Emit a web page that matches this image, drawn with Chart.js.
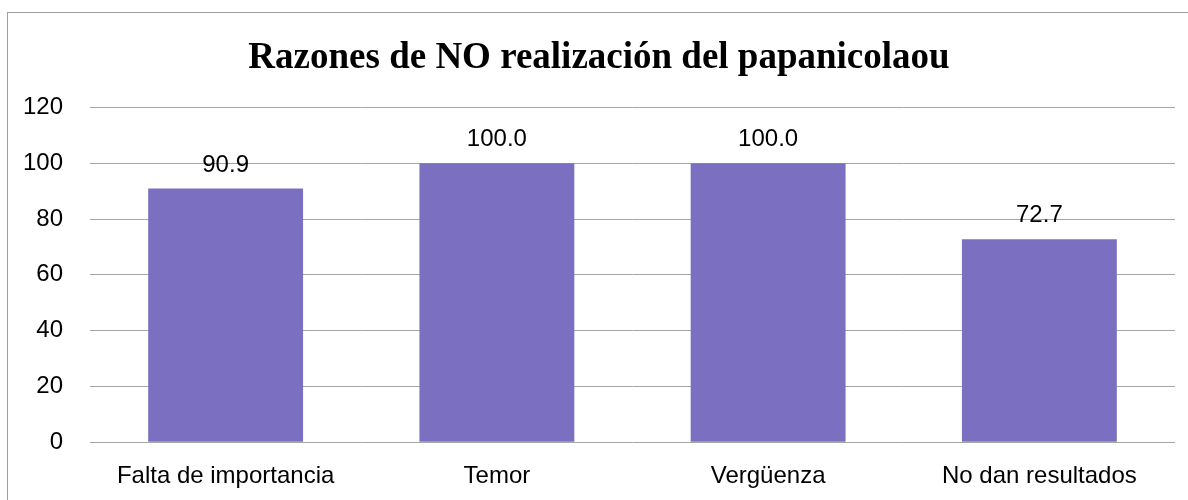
<!DOCTYPE html>
<html>
<head>
<meta charset="utf-8">
<script src="https://cdn.jsdelivr.net/npm/chart.js@4"></script>
<style>
  html, body { margin: 0; padding: 0; background: #fff; overflow: hidden; }
  #box { position: absolute; left: 7px; top: 12px; width: 1194px; height: 500px; border: 1px solid #a0a0a0; }
</style>
</head>
<body>
<div id="box"><canvas id="razones"></canvas></div>
<script>
let categorias = ['Falta de importancia', 'Temor', 'Vergüenza', 'No dan resultados'];
let porcentajes = [90.9, 100.0, 100.0, 72.7];
let yTicks = [0, 20, 40, 60, 80, 100, 120];

// etiquetas de valor encima de cada barra
let valueLabels = {
    id: 'valueLabels',
    afterDatasetsDraw(chart) {
        let c = chart.ctx;
        let meta = chart.getDatasetMeta(0);
        c.save();
        c.font = '24px "Liberation Sans"';
        c.fillStyle = '#000';
        c.textAlign = 'center';
        c.textBaseline = 'alphabetic';
        meta.data.forEach((bar, i) => {
            c.fillText(porcentajes[i].toFixed(1), bar.x, bar.y - 17);
        });
        c.restore();
    }
};

let ctx = document.getElementById('razones').getContext('2d');

new Chart(ctx, {
    type: 'bar',
    data: {
        labels: categorias,
        datasets: [{
            data: porcentajes,
            backgroundColor: '#7b6fc2',
            borderWidth: 0,
            categoryPercentage: 1,
            barPercentage: 0.571
        }]
    },
    options: {
        responsive: true,
        maintainAspectRatio: false,
        animation: false,
        layout: { padding: { left: 15, right: 27, top: 0, bottom: 2 } },
        plugins: {
            legend: { display: false },
            tooltip: { enabled: false },
            title: {
                display: true,
                text: 'Razones de NO realización del papanicolaou',
                color: '#000',
                font: { family: '"Liberation Serif"', size: 37, weight: 'bold' },
                padding: { top: 23, bottom: 27 }
            }
        },
        scales: {
            y: {
                min: 0,
                max: 120,
                afterBuildTicks: axis => { axis.ticks = yTicks.map(v => ({ value: v })); },
                afterFit: axis => { axis.width = 67; },
                border: { display: false },
                grid: { color: '#a6a6a6', drawTicks: false },
                ticks: { color: '#000', padding: 27, font: { family: '"Liberation Sans"', size: 24 } }
            },
            x: {
                afterFit: axis => { axis.paddingLeft = 0; axis.paddingRight = 0; },
                border: { display: false },
                grid: { display: false, drawTicks: false },
                ticks: { color: '#000', padding: 20, maxRotation: 0, font: { family: '"Liberation Sans"', size: 24 } }
            }
        }
    },
    plugins: [valueLabels]
});
</script>
</body>
</html>
